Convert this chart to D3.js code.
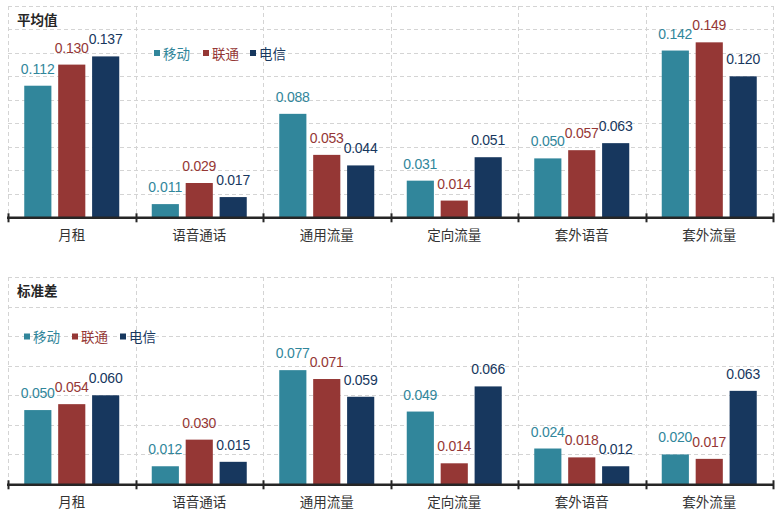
<!DOCTYPE html>
<html><head><meta charset="utf-8">
<script src="https://cdn.jsdelivr.net/npm/d3@7"></script>
<style>body{margin:0;background:#fff}svg{display:block}</style>
</head><body>
<svg id="c" width="781" height="525"></svg>
<script>
const categories = ["月租","语音通话","通用流量","定向流量","套外语音","套外流量"];
const seriesNames = ["移动","联通","电信"];
const seriesColors = ["#31869B","#953735","#17375E"];
const mean_mobile  = [0.112,0.011,0.088,0.031,0.050,0.142];
const mean_unicom  = [0.130,0.029,0.053,0.014,0.057,0.149];
const mean_telecom = [0.137,0.017,0.044,0.051,0.063,0.120];
const std_mobile   = [0.050,0.012,0.077,0.049,0.024,0.020];
const std_unicom   = [0.054,0.030,0.071,0.014,0.018,0.017];
const std_telecom  = [0.060,0.015,0.059,0.066,0.012,0.063];
const meanTicks = [0,0.02,0.04,0.06,0.08,0.10,0.12,0.14,0.16,0.18];
const stdTicks  = [0,0.02,0.04,0.06,0.08,0.10,0.12,0.14];

const svg = d3.select("#c");
const CJK = "'Noto Sans CJK SC','Noto Sans',sans-serif";
const x = d3.scaleBand().domain(categories).range([8,773]).padding(0);
const xi = d3.scaleBand().domain(seriesNames).range([16.25,111.25]).paddingInner(0.2).paddingOuter(0);

function panel(opt){
  const g = svg.append("g");
  const y = d3.scaleLinear().domain([0, d3.max(opt.ticks)]).range([opt.zero, opt.top]);
  // horizontal grid
  g.selectAll("line.h").data(opt.ticks.slice(1)).join("line")
    .attr("x1",8).attr("x2",773).attr("y1",d=>Math.round(y(d))+0.5).attr("y2",d=>Math.round(y(d))+0.5)
    .attr("stroke","#d4d4d4").attr("stroke-width",1).attr("stroke-dasharray","4,3");
  // vertical grid
  const bounds = categories.map(c=>x(c)).concat([x.range()[1]]);
  g.selectAll("line.v").data(bounds).join("line")
    .attr("x1",d=>Math.round(d)+0.5).attr("x2",d=>Math.round(d)+0.5)
    .attr("y1",y(d3.max(opt.ticks))).attr("y2",opt.zero)
    .attr("stroke","#d4d4d4").attr("stroke-width",1).attr("stroke-dasharray","4,3");
  // bars
  const data = [];
  categories.forEach((c,i)=>seriesNames.forEach((s,j)=>data.push({c,s,j,v:opt.values[j][i]})));
  g.selectAll("rect.b").data(data).join("rect")
    .attr("x",d=>x(d.c)+xi(d.s)).attr("width",xi.bandwidth())
    .attr("y",d=>y(d.v)).attr("height",d=>opt.zero-y(d.v))
    .attr("fill",d=>seriesColors[d.j]);
  // value labels
  g.selectAll("text.v").data(data).join("text")
    .attr("x",d=>x(d.c)+xi(d.s)+xi.bandwidth()/2).attr("y",d=>y(d.v)-12)
    .attr("text-anchor","middle").attr("fill",d=>seriesColors[d.j])
    .attr("font-family","'Liberation Sans',Arial,sans-serif").attr("font-size",14)
    .attr("textLength",34).attr("lengthAdjust","spacing")
    .text(d=>d.v.toFixed(3));
  // axis
  const ax = g.append("g").attr("transform",`translate(0,${opt.zero+0.8})`);
  ax.append("line").attr("x1",7).attr("x2",774).attr("stroke","#262626").attr("stroke-width",2.6);
  ax.selectAll("line.t").data(bounds).join("line")
    .attr("x1",d=>Math.round(d)+0.5).attr("x2",d=>Math.round(d)+0.5).attr("y1",-4.5).attr("y2",4.5)
    .attr("stroke","#262626").attr("stroke-width",2);
  ax.selectAll("text").data(categories).join("text")
    .attr("x",d=>x(d)+x.bandwidth()/2).attr("y",22.5).attr("text-anchor","middle")
    .attr("font-family",CJK).attr("font-size",13.5).attr("fill","#333")
    .text(d=>d);
  // title
  g.append("text").attr("x",17).attr("y",opt.titleY).attr("font-family",CJK)
    .attr("font-size",13.5).attr("font-weight","bold").attr("fill","#262626").text(opt.title);
  // legend
  const lg = g.selectAll("g.l").data(seriesNames).join("g")
    .attr("transform",(d,i)=>`translate(${opt.legX[i]},${opt.legY})`);
  lg.append("rect").attr("x",0).attr("y",-8.5).attr("width",6).attr("height",6).attr("fill",(d,i)=>seriesColors[i]);
  lg.append("text").attr("x",9).attr("y",0).attr("font-family",CJK).attr("font-size",13.5)
    .attr("fill",(d,i)=>seriesColors[i]).text(d=>d);
}

panel({values:[mean_mobile,mean_unicom,mean_telecom], ticks:meanTicks, zero:217, top:6,
  title:"平均值", titleY:24.5, legX:[154,203,250], legY:58.5});
panel({values:[std_mobile,std_unicom,std_telecom], ticks:stdTicks, zero:484, top:277,
  title:"标准差", titleY:296, legX:[24,72,120], legY:342});
</script>
</body></html>
